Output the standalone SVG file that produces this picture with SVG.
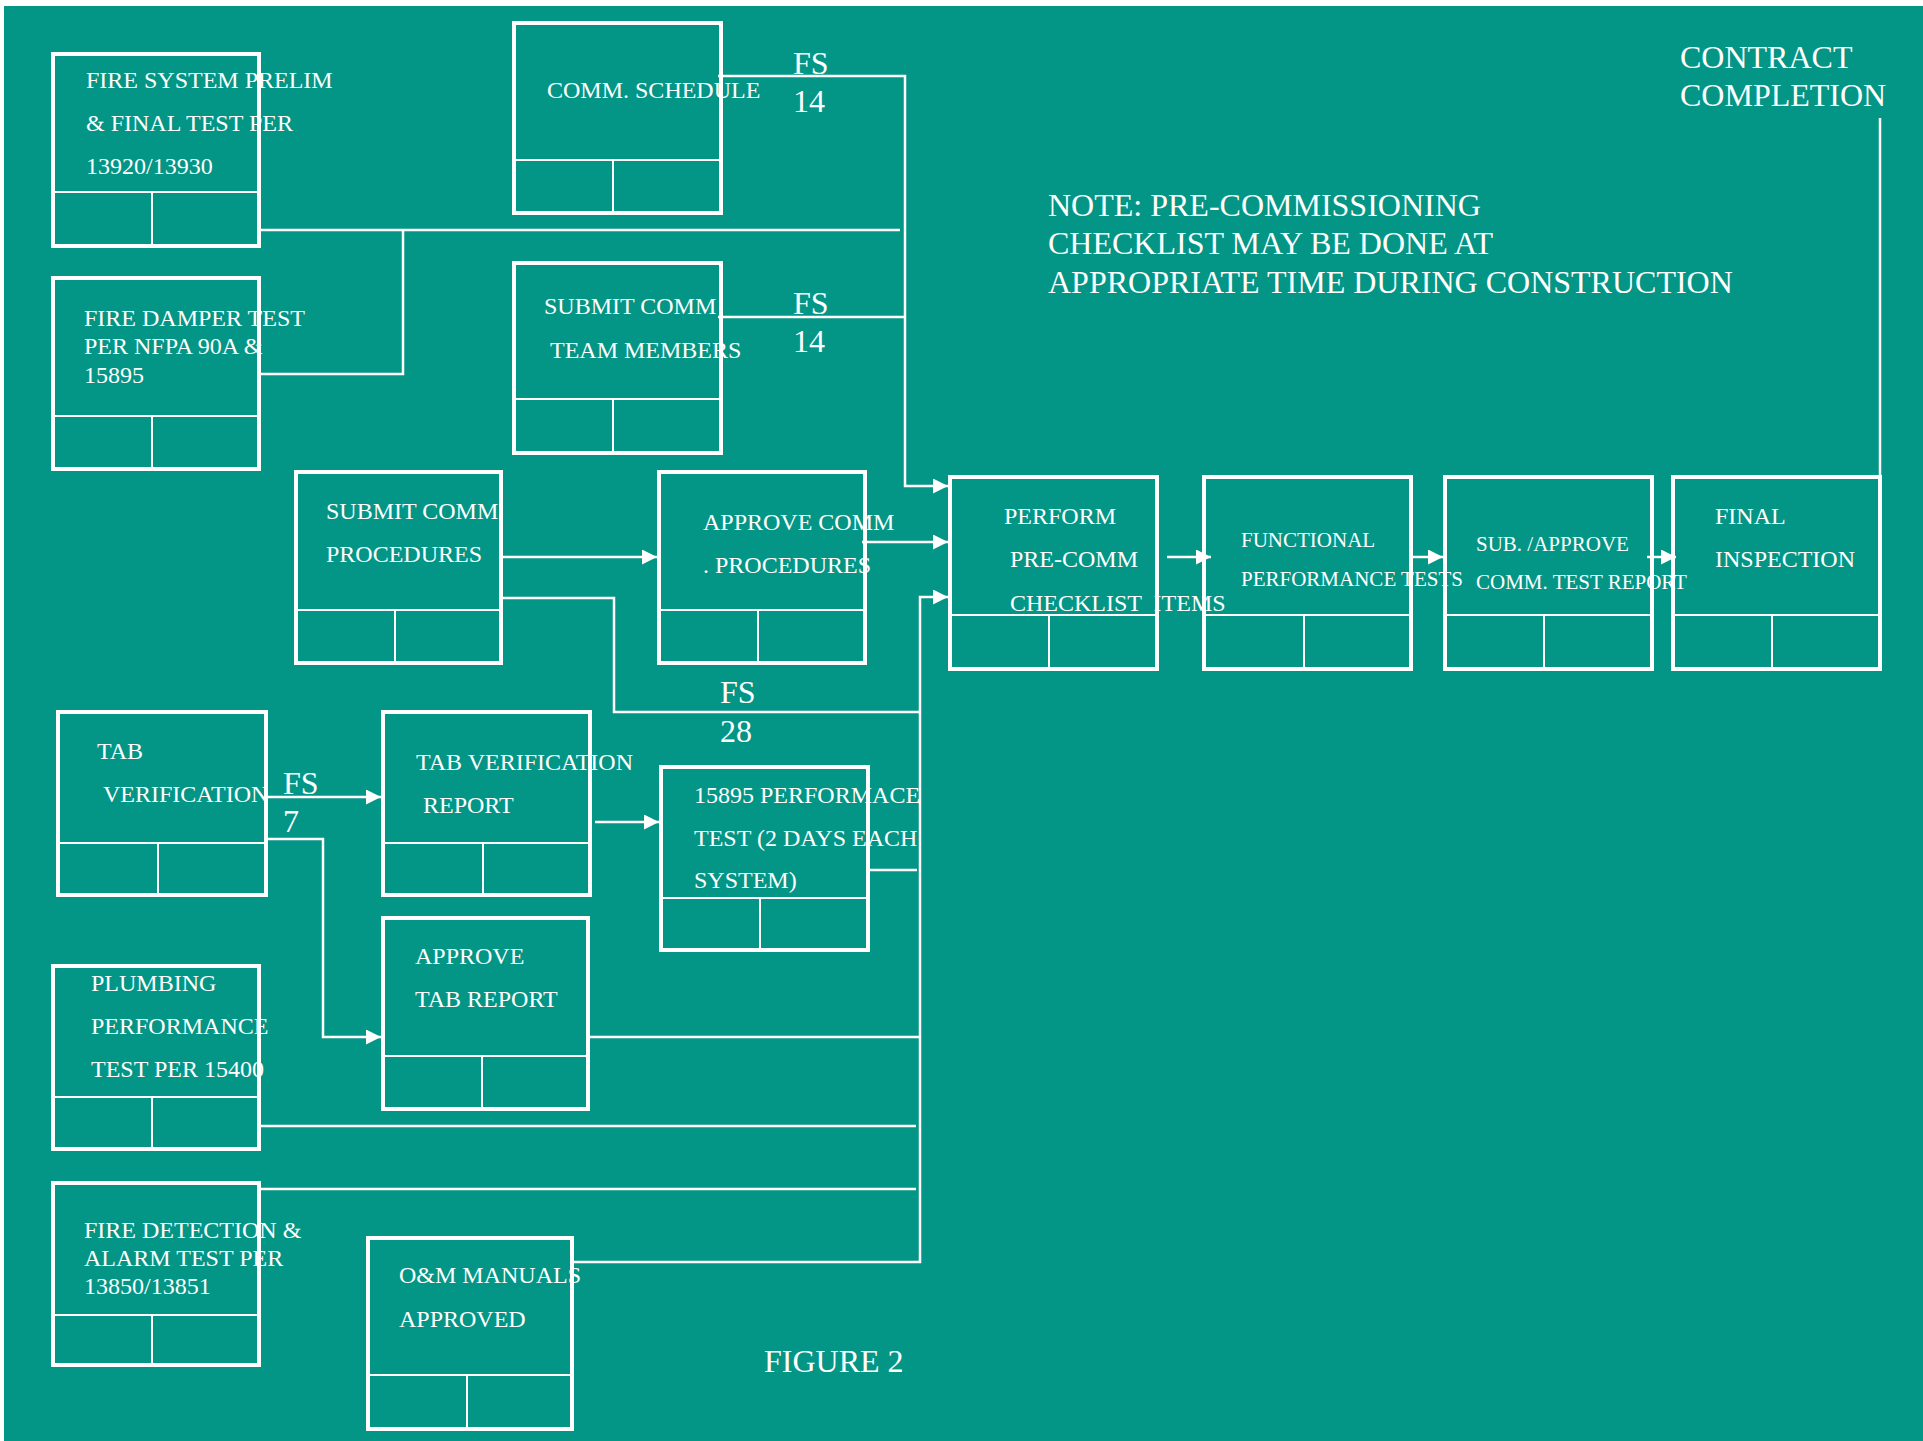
<svg xmlns="http://www.w3.org/2000/svg" width="1923" height="1441" viewBox="0 0 1923 1441">
<style>
.box{fill:none;stroke:#fff;stroke-width:4}
.div{fill:none;stroke:#fff;stroke-width:2}
.con{fill:none;stroke:#fff;stroke-width:2.5}
text{font-family:"Liberation Serif","Times New Roman",serif;fill:#fff}
.t{font-size:24px}
.s{font-size:21px}
.b{font-size:32px}
</style>
<defs>
<marker id="ah" markerUnits="userSpaceOnUse" markerWidth="15" markerHeight="15" refX="15" refY="7.5" orient="auto">
<path d="M0,0 L15,7.5 L0,15 z" fill="#fff"/>
</marker>
</defs>
<rect x="0" y="0" width="1923" height="1441" fill="#fff"/>
<rect x="4" y="6" width="1919" height="1435" fill="#039686"/>

<g id="connectors">
<path class="con" d="M718,76 H905 V486 H948" marker-end="url(#ah)"/>
<path class="con" d="M718,317 H905"/>
<path class="con" d="M261,230 H900"/>
<path class="con" d="M403,230 V374 H261"/>
<path class="con" d="M499,557 H657" marker-end="url(#ah)"/>
<path class="con" d="M862,542 H948" marker-end="url(#ah)"/>
<path class="con" d="M499,598 H614 V712 H920"/>
<path class="con" d="M573,1262 H920 V597 H948" marker-end="url(#ah)"/>
<path class="con" d="M268,797 H381" marker-end="url(#ah)"/>
<path class="con" d="M268,839 H323 V1037 H381" marker-end="url(#ah)"/>
<path class="con" d="M595,822 H659" marker-end="url(#ah)"/>
<path class="con" d="M870,870 H917"/>
<path class="con" d="M586,1037 H920"/>
<path class="con" d="M261,1126 H916"/>
<path class="con" d="M261,1189 H916"/>
<path class="con" d="M1167,557 H1211" marker-end="url(#ah)"/>
<path class="con" d="M1413,557 H1443" marker-end="url(#ah)"/>
<path class="con" d="M1647,557 H1676" marker-end="url(#ah)"/>
<path class="con" d="M1880,118 V475"/>
</g>

<g id="fire-system">
<rect class="box" x="53" y="54" width="206" height="192"/>
<path class="div" d="M53,192 H259 M152,192 V246"/>
<text class="t" x="86" y="88">FIRE SYSTEM PRELIM</text>
<text class="t" x="86" y="131">&amp; FINAL TEST PER</text>
<text class="t" x="86" y="174">13920/13930</text>
</g>

<g id="fire-damper">
<rect class="box" x="53" y="278" width="206" height="191"/>
<path class="div" d="M53,416 H259 M152,416 V469"/>
<text class="t" x="84" y="326">FIRE DAMPER TEST</text>
<text class="t" x="84" y="354">PER NFPA 90A &amp;</text>
<text class="t" x="84" y="383">15895</text>
</g>

<g id="comm-schedule">
<rect class="box" x="514" y="23" width="207" height="190"/>
<path class="div" d="M514,160 H721 M613,160 V213"/>
<text class="t" x="547" y="98">COMM. SCHEDULE</text>
</g>

<g id="submit-team">
<rect class="box" x="514" y="263" width="207" height="190"/>
<path class="div" d="M514,399 H721 M613,399 V453"/>
<text class="t" x="544" y="314">SUBMIT COMM</text>
<text class="t" x="550" y="358">TEAM MEMBERS</text>
</g>

<g id="submit-procedures">
<rect class="box" x="296" y="472" width="205" height="191"/>
<path class="div" d="M296,610 H501 M395,610 V663"/>
<text class="t" x="326" y="519">SUBMIT COMM</text>
<text class="t" x="326" y="562">PROCEDURES</text>
</g>

<g id="approve-procedures">
<rect class="box" x="659" y="472" width="206" height="191"/>
<path class="div" d="M659,610 H865 M758,610 V663"/>
<text class="t" x="703" y="530">APPROVE COMM</text>
<text class="t" x="703" y="573">. PROCEDURES</text>
</g>

<g id="perform-precomm">
<rect class="box" x="950" y="477" width="207" height="192"/>
<path class="div" d="M950,615 H1157 M1049,615 V669"/>
<text class="t" x="1004" y="524">PERFORM</text>
<text class="t" x="1010" y="567">PRE-COMM</text>
<text class="t" x="1010" y="611" xml:space="preserve">CHECKLIST  ITEMS</text>
</g>

<g id="functional">
<rect class="box" x="1204" y="477" width="207" height="192"/>
<path class="div" d="M1204,615 H1411 M1304,615 V669"/>
<text class="s" x="1241" y="547">FUNCTIONAL</text>
<text class="s" x="1241" y="586">PERFORMANCE TESTS</text>
</g>

<g id="sub-approve">
<rect class="box" x="1445" y="477" width="207" height="192"/>
<path class="div" d="M1445,615 H1652 M1544,615 V669"/>
<text class="s" x="1476" y="551">SUB. /APPROVE</text>
<text class="s" x="1476" y="589">COMM. TEST REPORT</text>
</g>

<g id="final-inspection">
<rect class="box" x="1673" y="477" width="207" height="192"/>
<path class="div" d="M1673,615 H1880 M1772,615 V669"/>
<text class="t" x="1715" y="524">FINAL</text>
<text class="t" x="1715" y="567">INSPECTION</text>
</g>

<g id="tab-verification">
<rect class="box" x="58" y="712" width="208" height="183"/>
<path class="div" d="M58,843 H266 M158,843 V895"/>
<text class="t" x="97" y="759">TAB</text>
<text class="t" x="103" y="802">VERIFICATION</text>
</g>

<g id="tab-report">
<rect class="box" x="383" y="712" width="207" height="183"/>
<path class="div" d="M383,843 H590 M483,843 V895"/>
<text class="t" x="416" y="770">TAB VERIFICATION</text>
<text class="t" x="423" y="813">REPORT</text>
</g>

<g id="perf-test-15895">
<rect class="box" x="661" y="767" width="207" height="183"/>
<path class="div" d="M661,898 H868 M760,898 V950"/>
<text class="t" x="694" y="803">15895 PERFORMACE</text>
<text class="t" x="694" y="846">TEST (2 DAYS EACH</text>
<text class="t" x="694" y="888">SYSTEM)</text>
</g>

<g id="approve-tab">
<rect class="box" x="383" y="918" width="205" height="191"/>
<path class="div" d="M383,1056 H588 M482,1056 V1109"/>
<text class="t" x="415" y="964">APPROVE</text>
<text class="t" x="415" y="1007">TAB REPORT</text>
</g>

<g id="plumbing">
<rect class="box" x="53" y="966" width="206" height="183"/>
<path class="div" d="M53,1097 H259 M152,1097 V1149"/>
<text class="t" x="91" y="991">PLUMBING</text>
<text class="t" x="91" y="1034">PERFORMANCE</text>
<text class="t" x="91" y="1077">TEST PER 15400</text>
</g>

<g id="fire-detection">
<rect class="box" x="53" y="1183" width="206" height="182"/>
<path class="div" d="M53,1315 H259 M152,1315 V1365"/>
<text class="t" x="84" y="1238">FIRE DETECTION &amp;</text>
<text class="t" x="84" y="1266">ALARM TEST PER</text>
<text class="t" x="84" y="1294">13850/13851</text>
</g>

<g id="om-manuals">
<rect class="box" x="368" y="1238" width="204" height="191"/>
<path class="div" d="M368,1375 H572 M467,1375 V1429"/>
<text class="t" x="399" y="1283">O&amp;M MANUALS</text>
<text class="t" x="399" y="1327">APPROVED</text>
</g>

<g id="labels">
<text class="b" x="793" y="74">FS</text>
<text class="b" x="793" y="112">14</text>
<text class="b" x="793" y="314">FS</text>
<text class="b" x="793" y="352">14</text>
<text class="b" x="720" y="703">FS</text>
<text class="b" x="720" y="742">28</text>
<text class="b" x="283" y="794">FS</text>
<text class="b" x="283" y="832">7</text>
<text class="b" x="1680" y="68">CONTRACT</text>
<text class="b" x="1680" y="106">COMPLETION</text>
<text class="b" x="1048" y="216">NOTE: PRE-COMMISSIONING</text>
<text class="b" x="1048" y="254">CHECKLIST MAY BE DONE AT</text>
<text class="b" x="1048" y="293">APPROPRIATE TIME DURING CONSTRUCTION</text>
<text class="b" x="764" y="1372">FIGURE 2</text>
</g>
</svg>
